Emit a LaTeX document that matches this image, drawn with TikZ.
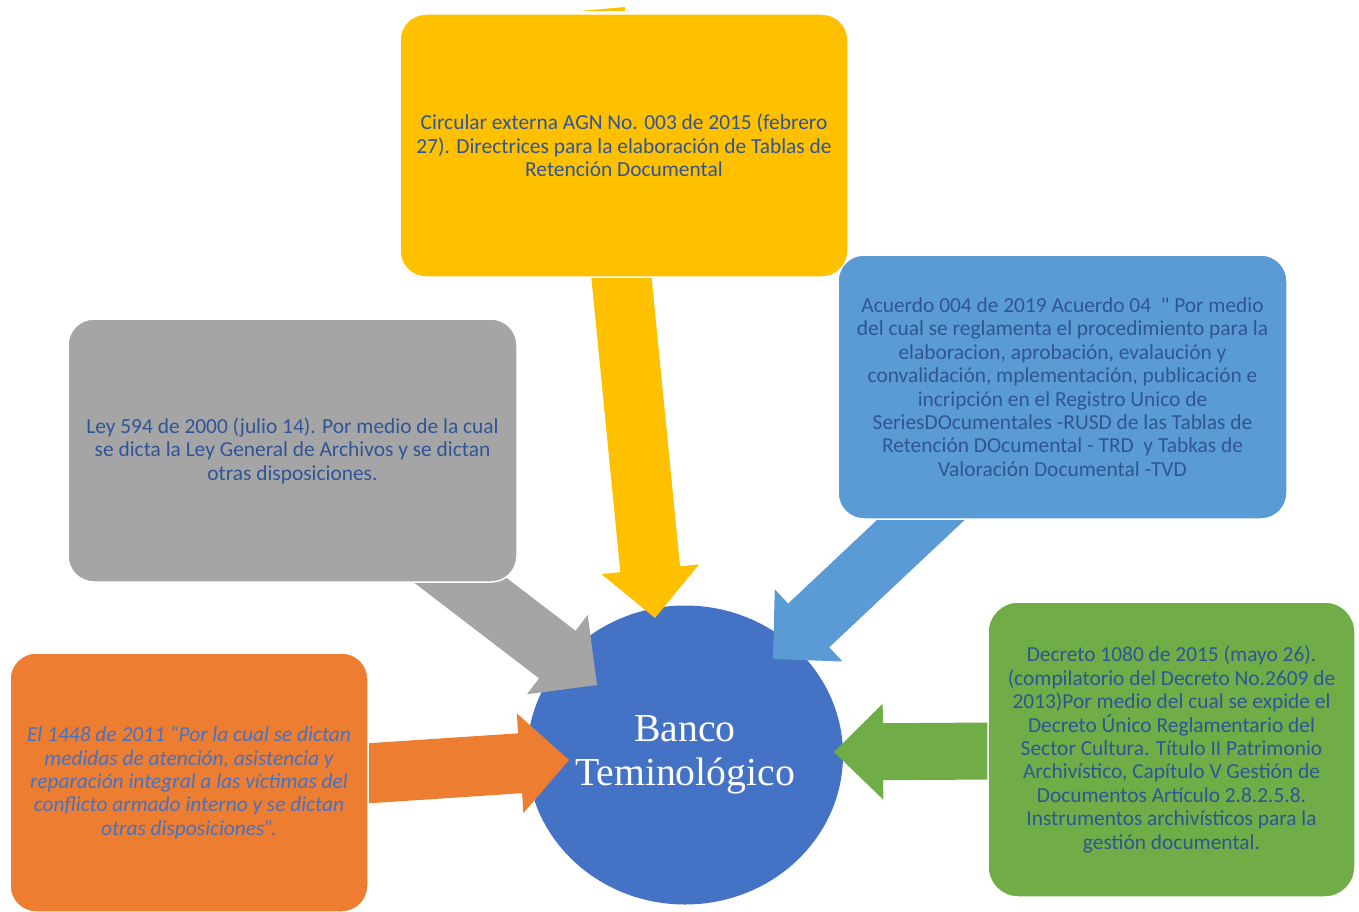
\documentclass[tikz,border=0pt]{standalone}
\usepackage{fontspec}
\setmainfont{Carlito}[Ligatures=TeXOff]
\newfontfamily\titlefont{Liberation Serif}
\usetikzlibrary{shapes, calc}
\definecolor{yelw}{HTML}{FFC000}
\definecolor{skyb}{HTML}{5B9BD5}
\definecolor{gris}{HTML}{A5A5A5}
\definecolor{oran}{HTML}{ED7D31}
\definecolor{verde}{HTML}{70AD47}
\definecolor{hubb}{HTML}{4472C4}
\definecolor{txtb}{HTML}{2F5597}
\pgfdeclarelayer{back}
\pgfdeclarelayer{mid}
\pgfsetlayers{back,mid,main}

\newcommand{\fatarrow}[6]{
	\path ($(#2)!#5!(#1)$) coordinate (hb);
	\fill[#6] ($(#1)!#3!90:(#2)$) -- ($(hb)!#3!90:(#2)$) -- ($(hb)!#4!90:(#2)$) -- (#2) -- ($(hb)!#4!-90:(#2)$) -- ($(hb)!#3!-90:(#2)$) -- ($(#1)!#3!-90:(#2)$) -- cycle;
}

\tikzset{
	box/.style={draw=white, line width=1.5pt, rounded corners=26pt, inner sep=0pt, align=center, text=txtb, font=\fontsize{21.4}{23.4}\selectfont},
}

\begin{document}
\begin{tikzpicture}[x=1pt, y=-1pt]
	
		\useasboundingbox (0,0) rectangle (1359,912);
		\begin{pgfonlayer}{back}
		\fill[white] (0,0) rectangle (1359,912);
		\node[ellipse, fill=hubb, minimum width=316pt, minimum height=299pt, inner sep=0pt, text=white, align=center, font=\titlefont\fontsize{39.7}{43.5}\selectfont] (banco) at (685,755) {Banco\\Teminológico};
		\end{pgfonlayer}
		
		\node[box, fill=yelw, minimum width=448pt, minimum height=263pt] (circular) at (624,145.5) {Circular externa AGN No. 003 de 2015 (febrero\\27). Directrices para la elaboración de Tablas de\\Retención Documental};
		\node[box, fill=skyb, minimum width=449pt, minimum height=264pt] (acuerdo) at (1062.5,387) {Acuerdo 004 de 2019 Acuerdo 04\ \ " Por medio\\del cual se reglamenta el procedimiento para la\\elaboracion, aprobación, evalaución y\\convalidación, mplementación, publicación e\\incripción en el Registro Unico de\\SeriesDOcumentales -RUSD de las Tablas de\\Retención DOcumental - TRD\ \ y Tabkas de\\Valoración Documental -TVD};
		\node[box, fill=gris, minimum width=449pt, minimum height=263pt] (ley) at (292.5,450.5) {Ley 594 de 2000 (julio 14). Por medio de la cual\\se dicta la Ley General de Archivos y se dictan\\otras disposiciones.};
		\node[box, fill=oran, minimum width=358pt, minimum height=259pt, text=hubb, font=\itshape\fontsize{21.4}{23.4}\selectfont] (victimas) at (189,782.5) {El 1448 de 2011 “Por la cual se dictan\\medidas de atención, asistencia y\\reparación integral a las víctimas del\\conflicto armado interno y se dictan\\otras disposiciones”.};
		\node[box, fill=verde, minimum width=367pt, minimum height=295pt, rounded corners=30pt] (decreto) at (1171.5,749.5) {Decreto 1080 de 2015 (mayo 26).\\(compilatorio del Decreto No.2609 de\\2013)Por medio del cual se expide el\\Decreto Único Reglamentario del\\Sector Cultura. Título II Patrimonio\\Archivístico, Capítulo V Gestión de\\Documentos Artículo 2.8.2.5.8.\\Instrumentos archivísticos para la\\gestión documental.};
		
		\begin{pgfonlayer}{mid}
		\coordinate (ytail) at ($(circular.south)+(-4,-15)$);
		\coordinate (ytip) at ($(banco.center)+(-30,-137)$);
		\coordinate (gtail) at ($(ley.south east)+(-109,-42)$);
		\coordinate (gtip) at ($(banco.center)+(-88,-70)$);
		\coordinate (btail) at ($(acuerdo.south)+(-100,-39)$);
		\coordinate (btip) at ($(banco.center)+(88,-96)$);
		\coordinate (otail) at ($(victimas.east)+(-8,-8.7)$);
		\coordinate (otip) at ($(banco.center)+(-116,5)$);
		\coordinate (vtail) at ($(decreto.west)+(7,1.5)$);
		\coordinate (vtip) at ($(banco.center)+(149,-3)$);
		
		\fatarrow{ytail}{ytip}{30pt}{49pt}{49pt}{yelw}
		\fatarrow{gtail}{gtip}{30pt}{50pt}{50pt}{gris}
		\fatarrow{btail}{btip}{30pt}{49.5pt}{49pt}{skyb}
		\fatarrow{otail}{otip}{30pt}{50pt}{49pt}{oran}
		\fatarrow{vtail}{vtip}{28.5pt}{48pt}{49pt}{verde}
		\fill[yelw] (580,11) -- (625,7) -- (625,11) -- cycle;
		\end{pgfonlayer}
		
	\end{tikzpicture}
\end{document}
